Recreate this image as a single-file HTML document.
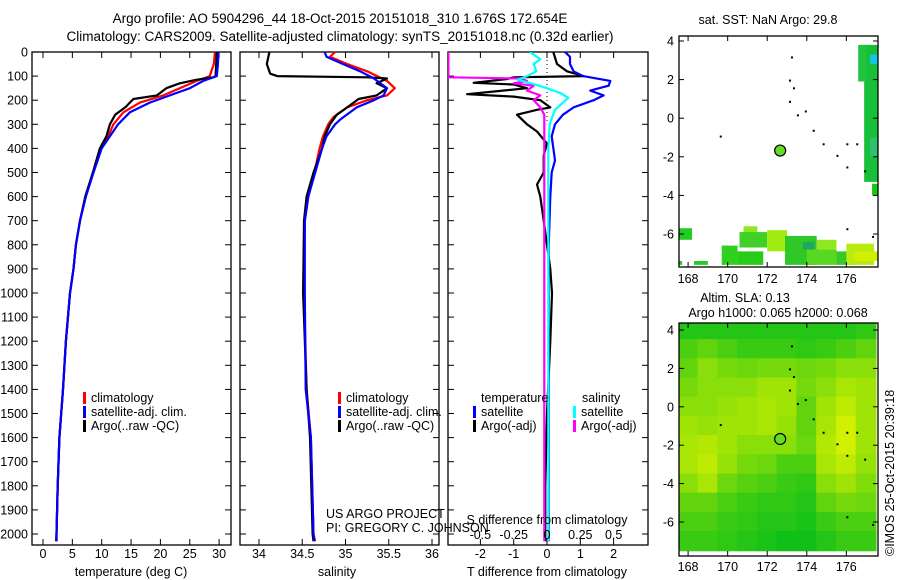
<!DOCTYPE html>
<html><head><meta charset="utf-8">
<style>
html,body{margin:0;padding:0;background:#fff;}
svg{display:block;font-family:"Liberation Sans",sans-serif;}
text{fill:#000;}
</style></head>
<body>
<svg id="chart" width="900" height="580" viewBox="0 0 900 580" xmlns="http://www.w3.org/2000/svg">
<text x="340" y="23" font-size="13.5" text-anchor="middle">Argo profile: AO 5904296_44 18-Oct-2015 20151018_310 1.676S 172.654E</text>
<text x="340" y="41" font-size="13.5" text-anchor="middle">Climatology: CARS2009. Satellite-adjusted climatology: synTS_20151018.nc (0.32d earlier)</text>
<g id="p1"></g>
<g id="p2"></g>
<g id="p3"></g>
<g id="m1"></g>
<g id="m2"></g>
<text transform="translate(894,556) rotate(-90)" font-size="12.5">©IMOS 25-Oct-2015 20:39:18</text>
</svg>
<script>
// ---- data ----
const depthTicks = [0,100,200,300,400,500,600,700,800,900,1000,1100,1200,1300,1400,1500,1600,1700,1800,1900,2000];
const tempTicks = [0,5,10,15,20,25,30];
const salTicks = [34,34.5,35,35.5,36];
const tdiffTicks = [-2,-1,0,1,2];
const sdiffTicks = [-0.5,-0.25,0,0.25,0.5];
const lonTicks = [168,170,172,174,176];
const latTicks = [4,2,0,-2,-4,-6];

const climTDepth = [0,50,100,120,150,180,210,250,300,350,400,500,600,700,800,900,1000,1200,1400,1600,1800,2000,2030];
const climTemp =   [29.3,29.1,28.4,26.2,23.3,20.5,16.5,13.7,12,11.1,9.7,8.5,7.2,6.3,5.6,5.2,4.6,3.9,3.4,2.8,2.5,2.3,2.2];
const satTDepth = [0,50,100,120,150,180,210,250,300,350,400,500,600,700,800,900,1000,1200,1400,1600,1800,2000,2030];
const satTemp =   [29.9,29.8,29.6,27.3,25,21.6,18.2,14.8,12.8,11.4,10,8.6,7.3,6.3,5.6,5.2,4.6,3.9,3.4,2.8,2.5,2.3,2.3];
const argoTDepth = [0,50,100,105,115,130,150,180,195,230,260,300,350,400,500,600,700,800,900,1000,1200,1400,1600,1800,2000,2030];
const argoTemp =   [29.6,29.5,29.4,29.0,26.2,23.3,21,19.4,15.4,14,12.3,11.4,10.8,9.7,8.5,7.2,6.3,5.6,5.2,4.6,3.9,3.4,2.8,2.5,2.3,2.3];

const climSDepth = [0,20,50,80,120,150,180,200,230,270,300,350,400,500,600,700,1000,1400,1600,2000,2030];
const climSal =    [34.88,34.82,35.02,35.25,35.48,35.57,35.48,35.25,35.02,34.86,34.8,34.74,34.7,34.64,34.57,34.53,34.52,34.55,34.6,34.63,34.65];
const satSDepth = [0,20,50,80,110,150,180,200,230,280,300,350,400,500,600,700,1000,1400,1600,2000,2030];
const satSal =    [34.76,34.78,34.97,35.17,35.33,35.48,35.44,35.33,35.13,34.94,34.88,34.78,34.73,34.65,34.57,34.53,34.53,34.54,34.6,34.63,34.64];
const argoSDepth = [0,50,90,100,105,110,130,150,180,195,230,260,300,350,400,500,600,700,1000,1400,1600,2000,2030];
const argoSal =    [34.12,34.09,34.13,34.21,35.25,35.48,35.36,35.48,35.36,35.15,35.02,34.9,34.82,34.76,34.73,34.63,34.55,34.52,34.51,34.55,34.59,34.62,34.63];

const satTdDepth = [0,20,50,80,100,120,140,160,180,200,230,260,300,350,450,500,600,800,1000,1500,2030];
const satTdiff =   [0.54,0.69,0.69,0.8,1.08,1.9,1.85,1.3,1.7,1.4,0.8,0.48,0.24,0.14,0.24,0.14,0.1,0.05,0.05,0.05,0.05];
const argoTdDepth = [0,50,80,100,105,112,128,135,150,175,185,200,230,240,260,300,330,380,430,500,550,600,700,800,900,1000,1200,1500,1800,2030];
const argoTdiff =   [0.19,0.3,0.6,1.1,-1.0,-1.2,-2.2,-1.0,-0.6,-2.4,-1.0,-0.2,0.1,-0.3,-0.9,-0.6,-0.3,0,-0.1,-0.1,-0.3,-0.2,-0.1,0,0.1,0.15,0.1,0,-0.05,-0.05];
const satSdDepth = [0,30,50,80,100,115,130,150,170,190,210,240,300,400,600,1000,2030];
const satSdiff =   [-0.13,-0.05,-0.1,-0.08,-0.15,-0.22,-0.12,0,0.1,0.16,0.12,0.06,0.02,0.01,0.01,0.01,0.01];
const argoSdDepth = [0,95,100,105,110,120,130,140,160,180,200,230,260,300,500,1000,2030];
const argoSdiff =   [-0.74,-0.74,-0.75,-0.75,-0.2,-0.15,-0.25,-0.1,-0.15,-0.05,-0.1,-0.05,-0.02,-0.02,-0.02,-0.02,-0.02];

const floatLon = 172.654, floatLat = -1.676;
// SST patches: [lon0, lon1, lat0, lat1, color]
const sstPatches = [
 [176.9,177.6,-3.3,3.8,"#18c03a"],[176.6,177.0,1.9,3.8,"#20c440"],[177.2,177.6,2.8,3.3,"#10c8e0"],
 [177.2,177.6,-2.0,-1.0,"#30c070"],[177.3,177.6,-4.0,-3.4,"#10cc10"],
 [167.5,168.2,-6.3,-5.7,"#22cc22"],[167.5,167.7,-7.6,-7.4,"#22cc22"],[168.3,169.0,-7.6,-7.4,"#22cc22"],
 [169.7,170.5,-7.6,-6.6,"#30d020"],[170.5,171.8,-7.6,-6.9,"#28cc18"],[170.8,171.5,-6.3,-5.6,"#90e820"],
 [170.6,172.0,-6.7,-5.9,"#40d028"],[172.0,173.0,-6.9,-5.8,"#a0ec10"],[172.9,174.5,-7.6,-6.1,"#30c828"],
 [174.0,175.5,-7.6,-6.8,"#58d820"],[174.5,175.5,-6.8,-6.3,"#90e820"],[175.5,176.5,-7.6,-6.9,"#38c828"],
 [176.0,177.4,-7.6,-6.5,"#b8ec10"],[176.4,177.6,-7.4,-6.9,"#d0f000"],[173.8,174.4,-6.8,-6.4,"#20a860"]
];
// SLA field intensity rows (lat 4 .. -7), cols lon 167.5 .. 177.5
const slaField = [
 [0.1,0.1,0.1,0.1,0.1,0.1,0.1,0.1,0.1,0.15],
 [0.3,0.4,0.3,0.2,0.2,0.2,0.15,0.2,0.3,0.4],
 [0.4,0.6,0.5,0.45,0.5,0.5,0.45,0.5,0.6,0.6],
 [0.5,0.6,0.6,0.6,0.7,0.7,0.5,0.6,0.75,0.7],
 [0.6,0.6,0.65,0.7,0.75,0.7,0.4,0.7,0.85,0.7],
 [0.7,0.65,0.7,0.7,0.75,0.65,0.4,0.75,0.95,0.7],
 [0.75,0.8,0.7,0.6,0.6,0.6,0.45,0.8,0.95,0.7],
 [0.75,0.85,0.65,0.5,0.45,0.3,0.3,0.75,0.85,0.65],
 [0.6,0.75,0.45,0.35,0.3,0.2,0.15,0.6,0.7,0.55],
 [0.4,0.4,0.3,0.2,0.15,0.15,0.1,0.4,0.5,0.45],
 [0.3,0.3,0.2,0.15,0.1,0.1,0.05,0.2,0.3,0.3],
 [0.2,0.2,0.15,0.1,0.05,0.0,0.0,0.1,0.2,0.2]
];
const coastPts = [[173.2,3.2],[173.1,2.0],[173.3,1.6],[173.1,0.9],[173.5,0.2],[173.9,0.4],[174.3,-0.6],[174.8,-1.3],[175.5,-1.9],[176,-1.3],[176.5,-1.3],[176,-2.5],[176.9,-2.7],[169.6,-0.9],[176,-5.7],[177.3,-6.1]];

// ---- helpers ----
const NS="http://www.w3.org/2000/svg";
function mk(parent, tag, attrs){const e=document.createElementNS(NS,tag);for(const k in attrs)e.setAttribute(k,attrs[k]);parent.appendChild(e);return e;}
function txt(parent,x,y,s,anchor,size){const t=mk(parent,'text',{x:x,y:y,'font-size':size||12.5,'text-anchor':anchor||'middle'});t.textContent=s;return t;}

const Y0=52, PXM=0.241, BOT=545, TOP=52;
function yD(d){return Y0+d*PXM;}

function frame(g,x0,x1){
 const r=mk(g,'rect',{x:x0,y:TOP,width:x1-x0,height:BOT-TOP,fill:'none',stroke:'#000','stroke-width':1.3});
 
 
}
function depthTicksDraw(g,x0,x1,labels){
 depthTicks.forEach(d=>{
  const y=yD(d);
  mk(g,'line',{x1:x0,y1:y,x2:x0+6,y2:y,stroke:'#000'});
  mk(g,'line',{x1:x1,y1:y,x2:x1-6,y2:y,stroke:'#000'});
  if(labels){const t=txt(g,x0-4,y+4.5,String(d),'end',12.5);
   
   }
 });
}
function xTicks(g,vals,fx,labelY,fmt){
 vals.forEach(v=>{
  const x=fx(v);
  mk(g,'line',{x1:x,y1:TOP,x2:x,y2:TOP+6,stroke:'#000'});
  mk(g,'line',{x1:x,y1:BOT,x2:x,y2:BOT-6,stroke:'#000'});
  if(labelY){const t=txt(g,x,labelY,fmt?fmt(v):String(v),'middle',12.5);
   
   }
 });
}
function series(g,depths,vals,fx,color,name,clipId,w){
 const pts=depths.map((d,i)=>fx(vals[i]).toFixed(1)+','+yD(d).toFixed(1)).join(' ');
 const p=mk(g,'polyline',{points:pts,fill:'none',stroke:color,'stroke-width':w||2.2,'stroke-linejoin':'round'});
 if(clipId)p.setAttribute('clip-path','url(#'+clipId+')');
 
 
 return p;
}
function legendItem(g,x,y,color,label,name){
 mk(g,'rect',{x:x,y:y-10,width:3,height:12,fill:color});
 const t=txt(g,x+8,y,label,'start',12.5);
 
 
}
const svg=document.getElementById('chart');
const defs=mk(svg,'defs',{});

// ---- panel 1 temperature ----
(function(){
 const g=document.getElementById('p1');
 const fx=v=>43+v*5.87;
 frame(g,32,231); depthTicksDraw(g,32,231,true); xTicks(g,tempTicks,fx,558);
 const xl=txt(g,131,576,'temperature (deg C)','middle',12.5);
 
 
 series(g,climTDepth,climTemp,fx,'#ff0000','climatology-temp-line');
 series(g,argoTDepth,argoTemp,fx,'#000000','argo-temp-line');
 series(g,satTDepth,satTemp,fx,'#0000ff','sat-adj-temp-line');
 legendItem(g,83,402,'#ff0000','climatology','legend-climatology');
 legendItem(g,83,416,'#0000ff','satellite-adj. clim.','legend-satellite-adj');
 legendItem(g,83,430,'#000000','Argo(..raw -QC)','legend-argo');
})();

// ---- panel 2 salinity ----
(function(){
 const g=document.getElementById('p2');
 const fx=v=>259+(v-34)*86.5;
 frame(g,240,439); depthTicksDraw(g,240,439,false); xTicks(g,salTicks,fx,558);
 const xl=txt(g,337,576,'salinity','middle',12.5);
 
 
 series(g,climSDepth,climSal,fx,'#ff0000','climatology-sal-line');
 series(g,argoSDepth,argoSal,fx,'#000000','argo-sal-line');
 series(g,satSDepth,satSal,fx,'#0000ff','sat-adj-sal-line');
 legendItem(g,338,402,'#ff0000','climatology','legend-climatology');
 legendItem(g,338,416,'#0000ff','satellite-adj. clim.','legend-satellite-adj');
 legendItem(g,338,430,'#000000','Argo(..raw -QC)','legend-argo');
 const a=txt(g,326,518,'US ARGO PROJECT','start',12.5);
 
 
 const b=txt(g,326,532,'PI: GREGORY C. JOHNSON','start',12.5);
 
 
})();

// ---- panel 3 differences ----
(function(){
 const g=document.getElementById('p3');
 const cp=mk(defs,'clipPath',{id:'c3'}); mk(cp,'rect',{x:448,y:TOP,width:200,height:BOT-TOP});
 const fT=v=>547+v*33.3, fS=v=>547+v*133.3;
 frame(g,448,648); depthTicksDraw(g,448,648,false); xTicks(g,tdiffTicks,fT,558);
 mk(g,'line',{x1:547,y1:TOP,x2:547,y2:yD(300),stroke:'#000','stroke-dasharray':'1,3'});
 series(g,argoTdDepth,argoTdiff,fT,'#000000','argo-temp-diff-line','c3');
 series(g,argoSdDepth,argoSdiff,fS,'#ff00ff','argo-sal-diff-line','c3');
 series(g,satTdDepth,satTdiff,fT,'#0000ff','sat-temp-diff-line','c3');
 series(g,satSdDepth,satSdiff,fS,'#00ffff','sat-sal-diff-line','c3');
 sdiffTicks.forEach(v=>{const t=txt(g,fS(v),539,String(v),'middle',12.5);
  
  });
 const st=txt(g,547,524,'S difference from climatology','middle',12.5);
 
 
 const tt=txt(g,547,576,'T difference from climatology','middle',12.5);
 
 
 const h1=txt(g,481,402,'temperature','start',12.5);
 
 
 const h2=txt(g,582,402,'salinity','start',12.5);
 
 
 legendItem(g,473,416,'#0000ff','satellite','legend-temp-satellite');
 legendItem(g,473,430,'#000000','Argo(-adj)','legend-temp-argo');
 legendItem(g,573,416,'#00ffff','satellite','legend-sal-satellite');
 legendItem(g,573,430,'#ff00ff','Argo(-adj)','legend-sal-argo');
})();

// ---- maps ----
const LON0=167.54, LON1=177.6, MX0=679, MX1=878;
function mapAxes(g,top,bot,lat4y,latPx,labelY,id){
 const fx=lon=>MX0+(lon-LON0)*(MX1-MX0)/(LON1-LON0);
 const fy=lat=>lat4y+(4-lat)*latPx;
 const cp=mk(defs,'clipPath',{id:id}); mk(cp,'rect',{x:MX0,y:top,width:MX1-MX0,height:bot-top});
 return {fx,fy};
}
function mapFrame(g,top,bot,fx,fy,labelY){
 mk(g,'rect',{x:MX0,y:top,width:MX1-MX0,height:bot-top,fill:'none',stroke:'#000','stroke-width':1.3});
 lonTicks.forEach(v=>{const x=fx(v);
  mk(g,'line',{x1:x,y1:top,x2:x,y2:top+5,stroke:'#000'});
  mk(g,'line',{x1:x,y1:bot,x2:x,y2:bot-5,stroke:'#000'});
  const t=txt(g,x,labelY,String(v),'middle',12.5);
  
  });
 latTicks.forEach(v=>{const y=fy(v);
  mk(g,'line',{x1:MX0,y1:y,x2:MX0+5,y2:y,stroke:'#000'});
  mk(g,'line',{x1:MX1,y1:y,x2:MX1-5,y2:y,stroke:'#000'});
  const t=txt(g,MX0-5,y+4.5,String(v),'end',12.5);
  
  });
}
function coastAndFloat(g,fx,fy){
 coastPts.forEach(p=>{mk(g,'rect',{x:fx(p[0]),y:fy(p[1]),width:2,height:2,fill:'#000'});});
 const c=mk(g,'circle',{cx:fx(floatLon),cy:fy(floatLat),r:5.5,fill:'#66dd22',stroke:'#000','stroke-width':1.2});
 
 
}
(function(){
 const g=document.getElementById('m1');
 const top=36,bot=267;
 const {fx,fy}=mapAxes(g,top,bot,41,19.3,283,'cm1');
 const gg=mk(g,'g',{'clip-path':'url(#cm1)'});
 sstPatches.forEach(p=>{
  const r=mk(gg,'rect',{x:fx(p[0]),y:fy(p[3]),width:fx(p[1])-fx(p[0]),height:fy(p[2])-fy(p[3]),fill:p[4]});
  
  
 });
 coastAndFloat(g,fx,fy);
 mapFrame(g,top,bot,fx,fy,283);
 const t=txt(g,768,24,'sat. SST: NaN Argo: 29.8','middle',12.5);
 
 
})();
(function(){
 const g=document.getElementById('m2');
 const top=323,bot=556;
 const {fx,fy}=mapAxes(g,top,bot,330,19.2,571,'cm2');
 const gg=mk(g,'g',{'clip-path':'url(#cm2)'});
 const c0=[16,192,24], c1=[220,242,0];
 slaField.forEach((row,ri)=>{
  row.forEach((v,ci)=>{
   const lat=4.5-ri, lon=167.5+ci;
   const col='rgb('+c0.map((a,k)=>Math.round(a+(c1[k]-a)*v)).join(',')+')';
   const r=mk(gg,'rect',{x:fx(lon)-0.5,y:fy(lat)-0.5,width:fx(lon+1)-fx(lon)+1,height:fy(lat-1)-fy(lat)+1,fill:col});
   
   
  });
 });
 coastAndFloat(g,fx,fy);
 mapFrame(g,top,bot,fx,fy,571);
 const t1=txt(g,745,302,'Altim. SLA: 0.13','middle',12.5);
 
 
 const t2=txt(g,778,317,'Argo h1000: 0.065 h2000: 0.068','middle',12.5);
 
 
})();
</script>
</body></html>
